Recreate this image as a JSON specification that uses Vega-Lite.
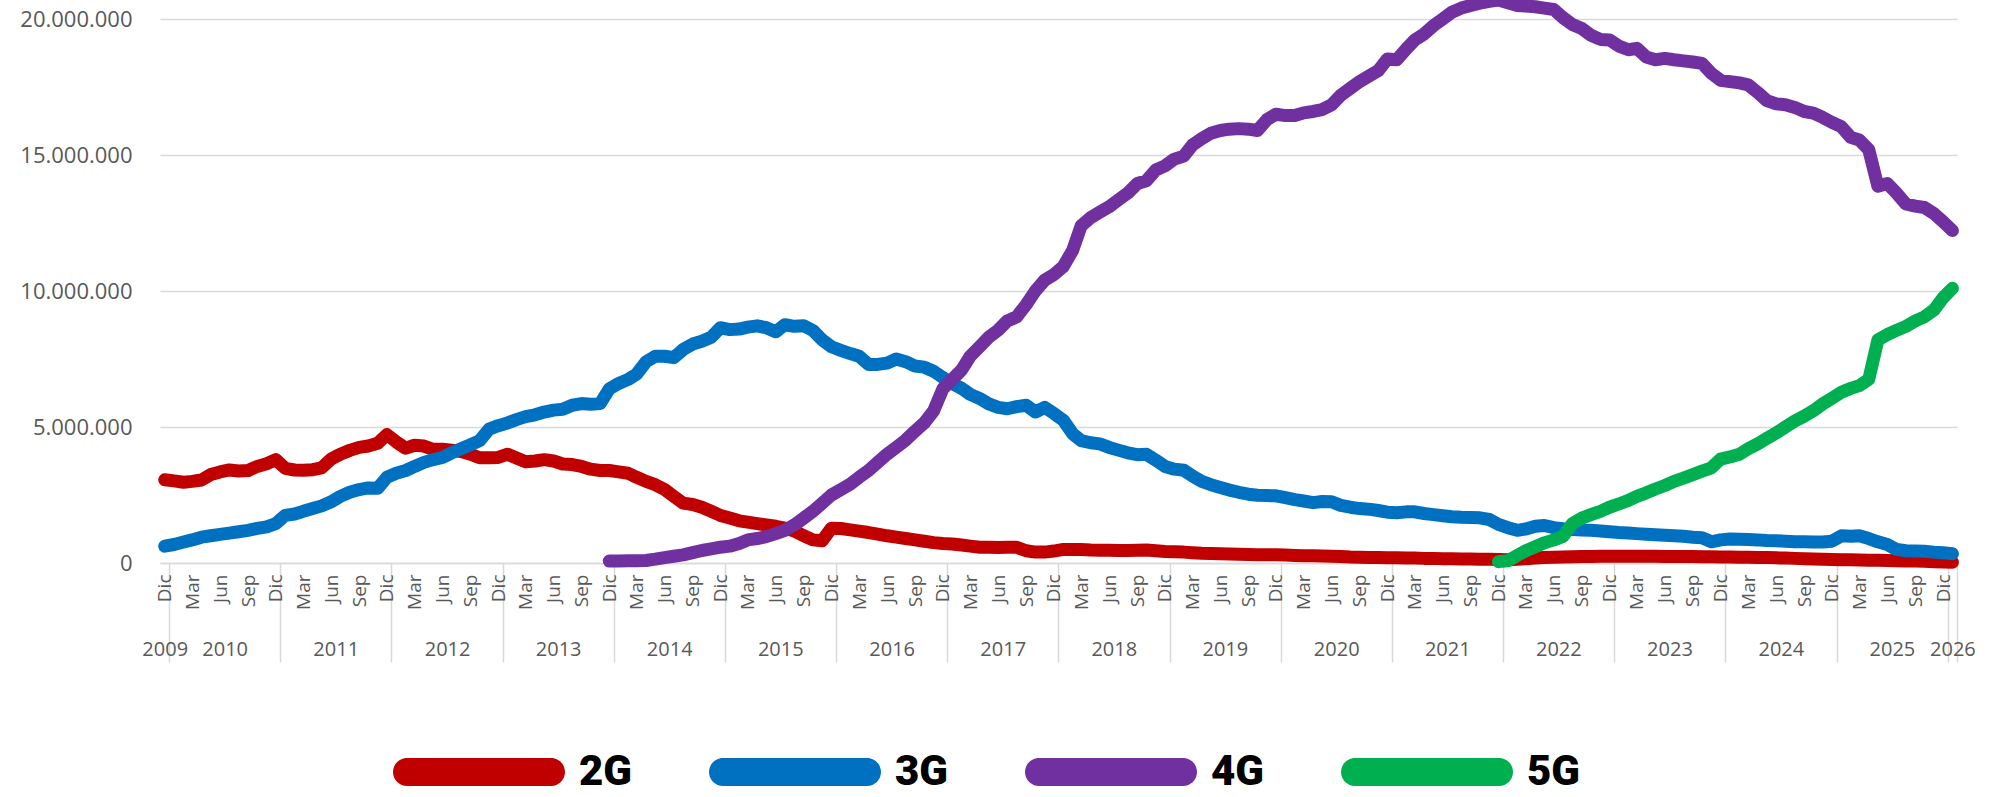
{
"$schema": "https://vega.github.io/schema/vega-lite/v6.json",
"width": 1797,
"height": 544,
"autosize": {"type": "none"},
"padding": {"left": 160, "top": 19, "right": 33, "bottom": 234},
"background": "white",
"config": {"view": {"stroke": null}, "axis": {"labelFont": "Open Sans", "labelColor": "#595959"}},
"data": {"values": [
{"d":"2009-12","s":"2G","v":3060000},
{"d":"2010-01","s":"2G","v":3020000},{"d":"2010-02","s":"2G","v":2970000},{"d":"2010-03","s":"2G","v":3000000},{"d":"2010-04","s":"2G","v":3050000},{"d":"2010-05","s":"2G","v":3250000},{"d":"2010-06","s":"2G","v":3350000},{"d":"2010-07","s":"2G","v":3420000},{"d":"2010-08","s":"2G","v":3380000},{"d":"2010-09","s":"2G","v":3400000},{"d":"2010-10","s":"2G","v":3550000},{"d":"2010-11","s":"2G","v":3650000},{"d":"2010-12","s":"2G","v":3800000},
{"d":"2011-01","s":"2G","v":3480000},{"d":"2011-02","s":"2G","v":3420000},{"d":"2011-03","s":"2G","v":3410000},{"d":"2011-04","s":"2G","v":3430000},{"d":"2011-05","s":"2G","v":3500000},{"d":"2011-06","s":"2G","v":3820000},{"d":"2011-07","s":"2G","v":4000000},{"d":"2011-08","s":"2G","v":4140000},{"d":"2011-09","s":"2G","v":4250000},{"d":"2011-10","s":"2G","v":4300000},{"d":"2011-11","s":"2G","v":4400000},{"d":"2011-12","s":"2G","v":4720000},
{"d":"2012-01","s":"2G","v":4450000},{"d":"2012-02","s":"2G","v":4220000},{"d":"2012-03","s":"2G","v":4330000},{"d":"2012-04","s":"2G","v":4300000},{"d":"2012-05","s":"2G","v":4180000},{"d":"2012-06","s":"2G","v":4180000},{"d":"2012-07","s":"2G","v":4150000},{"d":"2012-08","s":"2G","v":4100000},{"d":"2012-09","s":"2G","v":4000000},{"d":"2012-10","s":"2G","v":3870000},{"d":"2012-11","s":"2G","v":3870000},{"d":"2012-12","s":"2G","v":3880000},
{"d":"2013-01","s":"2G","v":4000000},{"d":"2013-02","s":"2G","v":3850000},{"d":"2013-03","s":"2G","v":3720000},{"d":"2013-04","s":"2G","v":3750000},{"d":"2013-05","s":"2G","v":3800000},{"d":"2013-06","s":"2G","v":3750000},{"d":"2013-07","s":"2G","v":3640000},{"d":"2013-08","s":"2G","v":3620000},{"d":"2013-09","s":"2G","v":3550000},{"d":"2013-10","s":"2G","v":3450000},{"d":"2013-11","s":"2G","v":3400000},{"d":"2013-12","s":"2G","v":3400000},
{"d":"2014-01","s":"2G","v":3350000},{"d":"2014-02","s":"2G","v":3300000},{"d":"2014-03","s":"2G","v":3150000},{"d":"2014-04","s":"2G","v":3000000},{"d":"2014-05","s":"2G","v":2880000},{"d":"2014-06","s":"2G","v":2700000},{"d":"2014-07","s":"2G","v":2450000},{"d":"2014-08","s":"2G","v":2200000},{"d":"2014-09","s":"2G","v":2150000},{"d":"2014-10","s":"2G","v":2050000},{"d":"2014-11","s":"2G","v":1900000},{"d":"2014-12","s":"2G","v":1750000},
{"d":"2015-01","s":"2G","v":1650000},{"d":"2015-02","s":"2G","v":1550000},{"d":"2015-03","s":"2G","v":1500000},{"d":"2015-04","s":"2G","v":1450000},{"d":"2015-05","s":"2G","v":1400000},{"d":"2015-06","s":"2G","v":1350000},{"d":"2015-07","s":"2G","v":1280000},{"d":"2015-08","s":"2G","v":1180000},{"d":"2015-09","s":"2G","v":1000000},{"d":"2015-10","s":"2G","v":850000},{"d":"2015-11","s":"2G","v":820000},{"d":"2015-12","s":"2G","v":1280000},
{"d":"2016-01","s":"2G","v":1270000},{"d":"2016-02","s":"2G","v":1220000},{"d":"2016-03","s":"2G","v":1170000},{"d":"2016-04","s":"2G","v":1120000},{"d":"2016-05","s":"2G","v":1060000},{"d":"2016-06","s":"2G","v":1000000},{"d":"2016-07","s":"2G","v":950000},{"d":"2016-08","s":"2G","v":900000},{"d":"2016-09","s":"2G","v":850000},{"d":"2016-10","s":"2G","v":800000},{"d":"2016-11","s":"2G","v":750000},{"d":"2016-12","s":"2G","v":720000},
{"d":"2017-01","s":"2G","v":700000},{"d":"2017-02","s":"2G","v":660000},{"d":"2017-03","s":"2G","v":620000},{"d":"2017-04","s":"2G","v":580000},{"d":"2017-05","s":"2G","v":580000},{"d":"2017-06","s":"2G","v":570000},{"d":"2017-07","s":"2G","v":580000},{"d":"2017-08","s":"2G","v":580000},{"d":"2017-09","s":"2G","v":450000},{"d":"2017-10","s":"2G","v":400000},{"d":"2017-11","s":"2G","v":400000},{"d":"2017-12","s":"2G","v":440000},
{"d":"2018-01","s":"2G","v":500000},{"d":"2018-02","s":"2G","v":500000},{"d":"2018-03","s":"2G","v":500000},{"d":"2018-04","s":"2G","v":480000},{"d":"2018-05","s":"2G","v":470000},{"d":"2018-06","s":"2G","v":470000},{"d":"2018-07","s":"2G","v":460000},{"d":"2018-08","s":"2G","v":460000},{"d":"2018-09","s":"2G","v":470000},{"d":"2018-10","s":"2G","v":480000},{"d":"2018-11","s":"2G","v":450000},{"d":"2018-12","s":"2G","v":420000},
{"d":"2019-01","s":"2G","v":410000},{"d":"2019-02","s":"2G","v":400000},{"d":"2019-03","s":"2G","v":380000},{"d":"2019-04","s":"2G","v":360000},{"d":"2019-05","s":"2G","v":350000},{"d":"2019-06","s":"2G","v":340000},{"d":"2019-07","s":"2G","v":330000},{"d":"2019-08","s":"2G","v":320000},{"d":"2019-09","s":"2G","v":310000},{"d":"2019-10","s":"2G","v":300000},{"d":"2019-11","s":"2G","v":300000},{"d":"2019-12","s":"2G","v":300000},
{"d":"2020-01","s":"2G","v":290000},{"d":"2020-02","s":"2G","v":280000},{"d":"2020-03","s":"2G","v":270000},{"d":"2020-04","s":"2G","v":270000},{"d":"2020-05","s":"2G","v":260000},{"d":"2020-06","s":"2G","v":250000},{"d":"2020-07","s":"2G","v":240000},{"d":"2020-08","s":"2G","v":220000},{"d":"2020-09","s":"2G","v":210000},{"d":"2020-10","s":"2G","v":200000},{"d":"2020-11","s":"2G","v":200000},{"d":"2020-12","s":"2G","v":190000},
{"d":"2021-01","s":"2G","v":190000},{"d":"2021-02","s":"2G","v":180000},{"d":"2021-03","s":"2G","v":180000},{"d":"2021-04","s":"2G","v":170000},{"d":"2021-05","s":"2G","v":170000},{"d":"2021-06","s":"2G","v":160000},{"d":"2021-07","s":"2G","v":160000},{"d":"2021-08","s":"2G","v":150000},{"d":"2021-09","s":"2G","v":150000},{"d":"2021-10","s":"2G","v":140000},{"d":"2021-11","s":"2G","v":140000},{"d":"2021-12","s":"2G","v":130000},
{"d":"2022-01","s":"2G","v":120000},{"d":"2022-02","s":"2G","v":140000},{"d":"2022-03","s":"2G","v":160000},{"d":"2022-04","s":"2G","v":180000},{"d":"2022-05","s":"2G","v":200000},{"d":"2022-06","s":"2G","v":210000},{"d":"2022-07","s":"2G","v":220000},{"d":"2022-08","s":"2G","v":230000},{"d":"2022-09","s":"2G","v":240000},{"d":"2022-10","s":"2G","v":240000},{"d":"2022-11","s":"2G","v":250000},{"d":"2022-12","s":"2G","v":250000},
{"d":"2023-01","s":"2G","v":250000},{"d":"2023-02","s":"2G","v":250000},{"d":"2023-03","s":"2G","v":250000},{"d":"2023-04","s":"2G","v":250000},{"d":"2023-05","s":"2G","v":250000},{"d":"2023-06","s":"2G","v":240000},{"d":"2023-07","s":"2G","v":240000},{"d":"2023-08","s":"2G","v":240000},{"d":"2023-09","s":"2G","v":240000},{"d":"2023-10","s":"2G","v":230000},{"d":"2023-11","s":"2G","v":230000},{"d":"2023-12","s":"2G","v":220000},
{"d":"2024-01","s":"2G","v":220000},{"d":"2024-02","s":"2G","v":210000},{"d":"2024-03","s":"2G","v":210000},{"d":"2024-04","s":"2G","v":200000},{"d":"2024-05","s":"2G","v":200000},{"d":"2024-06","s":"2G","v":190000},{"d":"2024-07","s":"2G","v":180000},{"d":"2024-08","s":"2G","v":170000},{"d":"2024-09","s":"2G","v":160000},{"d":"2024-10","s":"2G","v":150000},{"d":"2024-11","s":"2G","v":140000},{"d":"2024-12","s":"2G","v":130000},
{"d":"2025-01","s":"2G","v":120000},{"d":"2025-02","s":"2G","v":120000},{"d":"2025-03","s":"2G","v":110000},{"d":"2025-04","s":"2G","v":100000},{"d":"2025-05","s":"2G","v":100000},{"d":"2025-06","s":"2G","v":90000},{"d":"2025-07","s":"2G","v":80000},{"d":"2025-08","s":"2G","v":70000},{"d":"2025-09","s":"2G","v":70000},{"d":"2025-10","s":"2G","v":60000},{"d":"2025-11","s":"2G","v":50000},{"d":"2025-12","s":"2G","v":40000},
{"d":"2026-01","s":"2G","v":30000},
{"d":"2009-12","s":"3G","v":620000},
{"d":"2010-01","s":"3G","v":680000},{"d":"2010-02","s":"3G","v":770000},{"d":"2010-03","s":"3G","v":850000},{"d":"2010-04","s":"3G","v":950000},{"d":"2010-05","s":"3G","v":1000000},{"d":"2010-06","s":"3G","v":1050000},{"d":"2010-07","s":"3G","v":1100000},{"d":"2010-08","s":"3G","v":1150000},{"d":"2010-09","s":"3G","v":1200000},{"d":"2010-10","s":"3G","v":1270000},{"d":"2010-11","s":"3G","v":1330000},{"d":"2010-12","s":"3G","v":1450000},
{"d":"2011-01","s":"3G","v":1750000},{"d":"2011-02","s":"3G","v":1800000},{"d":"2011-03","s":"3G","v":1900000},{"d":"2011-04","s":"3G","v":2000000},{"d":"2011-05","s":"3G","v":2100000},{"d":"2011-06","s":"3G","v":2250000},{"d":"2011-07","s":"3G","v":2450000},{"d":"2011-08","s":"3G","v":2600000},{"d":"2011-09","s":"3G","v":2700000},{"d":"2011-10","s":"3G","v":2760000},{"d":"2011-11","s":"3G","v":2750000},{"d":"2011-12","s":"3G","v":3150000},
{"d":"2012-01","s":"3G","v":3300000},{"d":"2012-02","s":"3G","v":3400000},{"d":"2012-03","s":"3G","v":3550000},{"d":"2012-04","s":"3G","v":3700000},{"d":"2012-05","s":"3G","v":3800000},{"d":"2012-06","s":"3G","v":3880000},{"d":"2012-07","s":"3G","v":4050000},{"d":"2012-08","s":"3G","v":4200000},{"d":"2012-09","s":"3G","v":4350000},{"d":"2012-10","s":"3G","v":4500000},{"d":"2012-11","s":"3G","v":4920000},{"d":"2012-12","s":"3G","v":5050000},
{"d":"2013-01","s":"3G","v":5150000},{"d":"2013-02","s":"3G","v":5280000},{"d":"2013-03","s":"3G","v":5380000},{"d":"2013-04","s":"3G","v":5450000},{"d":"2013-05","s":"3G","v":5550000},{"d":"2013-06","s":"3G","v":5620000},{"d":"2013-07","s":"3G","v":5650000},{"d":"2013-08","s":"3G","v":5800000},{"d":"2013-09","s":"3G","v":5860000},{"d":"2013-10","s":"3G","v":5840000},{"d":"2013-11","s":"3G","v":5860000},{"d":"2013-12","s":"3G","v":6400000},
{"d":"2014-01","s":"3G","v":6600000},{"d":"2014-02","s":"3G","v":6750000},{"d":"2014-03","s":"3G","v":6950000},{"d":"2014-04","s":"3G","v":7400000},{"d":"2014-05","s":"3G","v":7600000},{"d":"2014-06","s":"3G","v":7600000},{"d":"2014-07","s":"3G","v":7550000},{"d":"2014-08","s":"3G","v":7850000},{"d":"2014-09","s":"3G","v":8050000},{"d":"2014-10","s":"3G","v":8150000},{"d":"2014-11","s":"3G","v":8300000},{"d":"2014-12","s":"3G","v":8650000},
{"d":"2015-01","s":"3G","v":8580000},{"d":"2015-02","s":"3G","v":8600000},{"d":"2015-03","s":"3G","v":8670000},{"d":"2015-04","s":"3G","v":8720000},{"d":"2015-05","s":"3G","v":8650000},{"d":"2015-06","s":"3G","v":8500000},{"d":"2015-07","s":"3G","v":8760000},{"d":"2015-08","s":"3G","v":8700000},{"d":"2015-09","s":"3G","v":8720000},{"d":"2015-10","s":"3G","v":8550000},{"d":"2015-11","s":"3G","v":8200000},{"d":"2015-12","s":"3G","v":7950000},
{"d":"2016-01","s":"3G","v":7820000},{"d":"2016-02","s":"3G","v":7700000},{"d":"2016-03","s":"3G","v":7600000},{"d":"2016-04","s":"3G","v":7300000},{"d":"2016-05","s":"3G","v":7300000},{"d":"2016-06","s":"3G","v":7350000},{"d":"2016-07","s":"3G","v":7500000},{"d":"2016-08","s":"3G","v":7400000},{"d":"2016-09","s":"3G","v":7240000},{"d":"2016-10","s":"3G","v":7200000},{"d":"2016-11","s":"3G","v":7050000},{"d":"2016-12","s":"3G","v":6820000},
{"d":"2017-01","s":"3G","v":6600000},{"d":"2017-02","s":"3G","v":6420000},{"d":"2017-03","s":"3G","v":6200000},{"d":"2017-04","s":"3G","v":6050000},{"d":"2017-05","s":"3G","v":5850000},{"d":"2017-06","s":"3G","v":5720000},{"d":"2017-07","s":"3G","v":5670000},{"d":"2017-08","s":"3G","v":5750000},{"d":"2017-09","s":"3G","v":5800000},{"d":"2017-10","s":"3G","v":5550000},{"d":"2017-11","s":"3G","v":5720000},{"d":"2017-12","s":"3G","v":5500000},
{"d":"2018-01","s":"3G","v":5250000},{"d":"2018-02","s":"3G","v":4750000},{"d":"2018-03","s":"3G","v":4500000},{"d":"2018-04","s":"3G","v":4420000},{"d":"2018-05","s":"3G","v":4380000},{"d":"2018-06","s":"3G","v":4250000},{"d":"2018-07","s":"3G","v":4150000},{"d":"2018-08","s":"3G","v":4050000},{"d":"2018-09","s":"3G","v":3980000},{"d":"2018-10","s":"3G","v":4000000},{"d":"2018-11","s":"3G","v":3780000},{"d":"2018-12","s":"3G","v":3550000},
{"d":"2019-01","s":"3G","v":3450000},{"d":"2019-02","s":"3G","v":3410000},{"d":"2019-03","s":"3G","v":3200000},{"d":"2019-04","s":"3G","v":3000000},{"d":"2019-05","s":"3G","v":2880000},{"d":"2019-06","s":"3G","v":2780000},{"d":"2019-07","s":"3G","v":2680000},{"d":"2019-08","s":"3G","v":2600000},{"d":"2019-09","s":"3G","v":2530000},{"d":"2019-10","s":"3G","v":2490000},{"d":"2019-11","s":"3G","v":2480000},{"d":"2019-12","s":"3G","v":2470000},
{"d":"2020-01","s":"3G","v":2400000},{"d":"2020-02","s":"3G","v":2330000},{"d":"2020-03","s":"3G","v":2280000},{"d":"2020-04","s":"3G","v":2220000},{"d":"2020-05","s":"3G","v":2260000},{"d":"2020-06","s":"3G","v":2250000},{"d":"2020-07","s":"3G","v":2120000},{"d":"2020-08","s":"3G","v":2050000},{"d":"2020-09","s":"3G","v":2000000},{"d":"2020-10","s":"3G","v":1980000},{"d":"2020-11","s":"3G","v":1930000},{"d":"2020-12","s":"3G","v":1870000},
{"d":"2021-01","s":"3G","v":1850000},{"d":"2021-02","s":"3G","v":1880000},{"d":"2021-03","s":"3G","v":1880000},{"d":"2021-04","s":"3G","v":1820000},{"d":"2021-05","s":"3G","v":1780000},{"d":"2021-06","s":"3G","v":1740000},{"d":"2021-07","s":"3G","v":1700000},{"d":"2021-08","s":"3G","v":1680000},{"d":"2021-09","s":"3G","v":1670000},{"d":"2021-10","s":"3G","v":1660000},{"d":"2021-11","s":"3G","v":1600000},{"d":"2021-12","s":"3G","v":1420000},
{"d":"2022-01","s":"3G","v":1300000},{"d":"2022-02","s":"3G","v":1200000},{"d":"2022-03","s":"3G","v":1250000},{"d":"2022-04","s":"3G","v":1350000},{"d":"2022-05","s":"3G","v":1380000},{"d":"2022-06","s":"3G","v":1300000},{"d":"2022-07","s":"3G","v":1260000},{"d":"2022-08","s":"3G","v":1230000},{"d":"2022-09","s":"3G","v":1210000},{"d":"2022-10","s":"3G","v":1200000},{"d":"2022-11","s":"3G","v":1180000},{"d":"2022-12","s":"3G","v":1150000},
{"d":"2023-01","s":"3G","v":1120000},{"d":"2023-02","s":"3G","v":1100000},{"d":"2023-03","s":"3G","v":1080000},{"d":"2023-04","s":"3G","v":1060000},{"d":"2023-05","s":"3G","v":1040000},{"d":"2023-06","s":"3G","v":1020000},{"d":"2023-07","s":"3G","v":1000000},{"d":"2023-08","s":"3G","v":980000},{"d":"2023-09","s":"3G","v":950000},{"d":"2023-10","s":"3G","v":930000},{"d":"2023-11","s":"3G","v":780000},{"d":"2023-12","s":"3G","v":850000},
{"d":"2024-01","s":"3G","v":880000},{"d":"2024-02","s":"3G","v":870000},{"d":"2024-03","s":"3G","v":860000},{"d":"2024-04","s":"3G","v":850000},{"d":"2024-05","s":"3G","v":830000},{"d":"2024-06","s":"3G","v":820000},{"d":"2024-07","s":"3G","v":800000},{"d":"2024-08","s":"3G","v":780000},{"d":"2024-09","s":"3G","v":780000},{"d":"2024-10","s":"3G","v":770000},{"d":"2024-11","s":"3G","v":770000},{"d":"2024-12","s":"3G","v":800000},
{"d":"2025-01","s":"3G","v":1000000},{"d":"2025-02","s":"3G","v":980000},{"d":"2025-03","s":"3G","v":1000000},{"d":"2025-04","s":"3G","v":900000},{"d":"2025-05","s":"3G","v":780000},{"d":"2025-06","s":"3G","v":680000},{"d":"2025-07","s":"3G","v":500000},{"d":"2025-08","s":"3G","v":450000},{"d":"2025-09","s":"3G","v":440000},{"d":"2025-10","s":"3G","v":430000},{"d":"2025-11","s":"3G","v":400000},{"d":"2025-12","s":"3G","v":380000},
{"d":"2026-01","s":"3G","v":340000},
{"d":"2013-12","s":"4G","v":70000},
{"d":"2014-01","s":"4G","v":70000},{"d":"2014-02","s":"4G","v":80000},{"d":"2014-03","s":"4G","v":80000},{"d":"2014-04","s":"4G","v":90000},{"d":"2014-05","s":"4G","v":140000},{"d":"2014-06","s":"4G","v":200000},{"d":"2014-07","s":"4G","v":250000},{"d":"2014-08","s":"4G","v":300000},{"d":"2014-09","s":"4G","v":380000},{"d":"2014-10","s":"4G","v":460000},{"d":"2014-11","s":"4G","v":520000},{"d":"2014-12","s":"4G","v":580000},
{"d":"2015-01","s":"4G","v":620000},{"d":"2015-02","s":"4G","v":720000},{"d":"2015-03","s":"4G","v":850000},{"d":"2015-04","s":"4G","v":900000},{"d":"2015-05","s":"4G","v":970000},{"d":"2015-06","s":"4G","v":1080000},{"d":"2015-07","s":"4G","v":1200000},{"d":"2015-08","s":"4G","v":1400000},{"d":"2015-09","s":"4G","v":1650000},{"d":"2015-10","s":"4G","v":1900000},{"d":"2015-11","s":"4G","v":2200000},{"d":"2015-12","s":"4G","v":2500000},
{"d":"2016-01","s":"4G","v":2700000},{"d":"2016-02","s":"4G","v":2900000},{"d":"2016-03","s":"4G","v":3150000},{"d":"2016-04","s":"4G","v":3400000},{"d":"2016-05","s":"4G","v":3700000},{"d":"2016-06","s":"4G","v":4000000},{"d":"2016-07","s":"4G","v":4250000},{"d":"2016-08","s":"4G","v":4520000},{"d":"2016-09","s":"4G","v":4850000},{"d":"2016-10","s":"4G","v":5150000},{"d":"2016-11","s":"4G","v":5600000},{"d":"2016-12","s":"4G","v":6400000},
{"d":"2017-01","s":"4G","v":6750000},{"d":"2017-02","s":"4G","v":7100000},{"d":"2017-03","s":"4G","v":7600000},{"d":"2017-04","s":"4G","v":7950000},{"d":"2017-05","s":"4G","v":8300000},{"d":"2017-06","s":"4G","v":8560000},{"d":"2017-07","s":"4G","v":8900000},{"d":"2017-08","s":"4G","v":9050000},{"d":"2017-09","s":"4G","v":9500000},{"d":"2017-10","s":"4G","v":10000000},{"d":"2017-11","s":"4G","v":10400000},{"d":"2017-12","s":"4G","v":10600000},
{"d":"2018-01","s":"4G","v":10900000},{"d":"2018-02","s":"4G","v":11500000},{"d":"2018-03","s":"4G","v":12400000},{"d":"2018-04","s":"4G","v":12700000},{"d":"2018-05","s":"4G","v":12900000},{"d":"2018-06","s":"4G","v":13100000},{"d":"2018-07","s":"4G","v":13350000},{"d":"2018-08","s":"4G","v":13600000},{"d":"2018-09","s":"4G","v":13950000},{"d":"2018-10","s":"4G","v":14050000},{"d":"2018-11","s":"4G","v":14450000},{"d":"2018-12","s":"4G","v":14600000},
{"d":"2019-01","s":"4G","v":14850000},{"d":"2019-02","s":"4G","v":14960000},{"d":"2019-03","s":"4G","v":15360000},{"d":"2019-04","s":"4G","v":15600000},{"d":"2019-05","s":"4G","v":15800000},{"d":"2019-06","s":"4G","v":15900000},{"d":"2019-07","s":"4G","v":15950000},{"d":"2019-08","s":"4G","v":15970000},{"d":"2019-09","s":"4G","v":15950000},{"d":"2019-10","s":"4G","v":15900000},{"d":"2019-11","s":"4G","v":16300000},{"d":"2019-12","s":"4G","v":16500000},
{"d":"2020-01","s":"4G","v":16450000},{"d":"2020-02","s":"4G","v":16450000},{"d":"2020-03","s":"4G","v":16550000},{"d":"2020-04","s":"4G","v":16600000},{"d":"2020-05","s":"4G","v":16670000},{"d":"2020-06","s":"4G","v":16850000},{"d":"2020-07","s":"4G","v":17200000},{"d":"2020-08","s":"4G","v":17450000},{"d":"2020-09","s":"4G","v":17700000},{"d":"2020-10","s":"4G","v":17900000},{"d":"2020-11","s":"4G","v":18100000},{"d":"2020-12","s":"4G","v":18530000},
{"d":"2021-01","s":"4G","v":18500000},{"d":"2021-02","s":"4G","v":18900000},{"d":"2021-03","s":"4G","v":19230000},{"d":"2021-04","s":"4G","v":19450000},{"d":"2021-05","s":"4G","v":19750000},{"d":"2021-06","s":"4G","v":20000000},{"d":"2021-07","s":"4G","v":20250000},{"d":"2021-08","s":"4G","v":20400000},{"d":"2021-09","s":"4G","v":20500000},{"d":"2021-10","s":"4G","v":20580000},{"d":"2021-11","s":"4G","v":20650000},{"d":"2021-12","s":"4G","v":20700000},
{"d":"2022-01","s":"4G","v":20600000},{"d":"2022-02","s":"4G","v":20500000},{"d":"2022-03","s":"4G","v":20480000},{"d":"2022-04","s":"4G","v":20450000},{"d":"2022-05","s":"4G","v":20400000},{"d":"2022-06","s":"4G","v":20350000},{"d":"2022-07","s":"4G","v":20050000},{"d":"2022-08","s":"4G","v":19800000},{"d":"2022-09","s":"4G","v":19650000},{"d":"2022-10","s":"4G","v":19400000},{"d":"2022-11","s":"4G","v":19250000},{"d":"2022-12","s":"4G","v":19230000},
{"d":"2023-01","s":"4G","v":19000000},{"d":"2023-02","s":"4G","v":18870000},{"d":"2023-03","s":"4G","v":18920000},{"d":"2023-04","s":"4G","v":18600000},{"d":"2023-05","s":"4G","v":18500000},{"d":"2023-06","s":"4G","v":18550000},{"d":"2023-07","s":"4G","v":18500000},{"d":"2023-08","s":"4G","v":18460000},{"d":"2023-09","s":"4G","v":18420000},{"d":"2023-10","s":"4G","v":18370000},{"d":"2023-11","s":"4G","v":18000000},{"d":"2023-12","s":"4G","v":17750000},
{"d":"2024-01","s":"4G","v":17700000},{"d":"2024-02","s":"4G","v":17650000},{"d":"2024-03","s":"4G","v":17580000},{"d":"2024-04","s":"4G","v":17300000},{"d":"2024-05","s":"4G","v":17000000},{"d":"2024-06","s":"4G","v":16880000},{"d":"2024-07","s":"4G","v":16850000},{"d":"2024-08","s":"4G","v":16750000},{"d":"2024-09","s":"4G","v":16600000},{"d":"2024-10","s":"4G","v":16540000},{"d":"2024-11","s":"4G","v":16380000},{"d":"2024-12","s":"4G","v":16200000},
{"d":"2025-01","s":"4G","v":16040000},{"d":"2025-02","s":"4G","v":15650000},{"d":"2025-03","s":"4G","v":15550000},{"d":"2025-04","s":"4G","v":15200000},{"d":"2025-05","s":"4G","v":13850000},{"d":"2025-06","s":"4G","v":13950000},{"d":"2025-07","s":"4G","v":13600000},{"d":"2025-08","s":"4G","v":13200000},{"d":"2025-09","s":"4G","v":13120000},{"d":"2025-10","s":"4G","v":13070000},{"d":"2025-11","s":"4G","v":12850000},{"d":"2025-12","s":"4G","v":12550000},
{"d":"2026-01","s":"4G","v":12220000},
{"d":"2021-12","s":"5G","v":50000},
{"d":"2022-01","s":"5G","v":80000},{"d":"2022-02","s":"5G","v":280000},{"d":"2022-03","s":"5G","v":450000},{"d":"2022-04","s":"5G","v":600000},{"d":"2022-05","s":"5G","v":740000},{"d":"2022-06","s":"5G","v":850000},{"d":"2022-07","s":"5G","v":980000},{"d":"2022-08","s":"5G","v":1450000},{"d":"2022-09","s":"5G","v":1650000},{"d":"2022-10","s":"5G","v":1780000},{"d":"2022-11","s":"5G","v":1900000},{"d":"2022-12","s":"5G","v":2050000},
{"d":"2023-01","s":"5G","v":2170000},{"d":"2023-02","s":"5G","v":2300000},{"d":"2023-03","s":"5G","v":2450000},{"d":"2023-04","s":"5G","v":2580000},{"d":"2023-05","s":"5G","v":2720000},{"d":"2023-06","s":"5G","v":2850000},{"d":"2023-07","s":"5G","v":3000000},{"d":"2023-08","s":"5G","v":3120000},{"d":"2023-09","s":"5G","v":3250000},{"d":"2023-10","s":"5G","v":3380000},{"d":"2023-11","s":"5G","v":3500000},{"d":"2023-12","s":"5G","v":3820000},
{"d":"2024-01","s":"5G","v":3900000},{"d":"2024-02","s":"5G","v":4000000},{"d":"2024-03","s":"5G","v":4200000},{"d":"2024-04","s":"5G","v":4380000},{"d":"2024-05","s":"5G","v":4580000},{"d":"2024-06","s":"5G","v":4780000},{"d":"2024-07","s":"5G","v":5000000},{"d":"2024-08","s":"5G","v":5220000},{"d":"2024-09","s":"5G","v":5400000},{"d":"2024-10","s":"5G","v":5600000},{"d":"2024-11","s":"5G","v":5850000},{"d":"2024-12","s":"5G","v":6060000},
{"d":"2025-01","s":"5G","v":6280000},{"d":"2025-02","s":"5G","v":6420000},{"d":"2025-03","s":"5G","v":6520000},{"d":"2025-04","s":"5G","v":6750000},{"d":"2025-05","s":"5G","v":8200000},{"d":"2025-06","s":"5G","v":8400000},{"d":"2025-07","s":"5G","v":8550000},{"d":"2025-08","s":"5G","v":8700000},{"d":"2025-09","s":"5G","v":8900000},{"d":"2025-10","s":"5G","v":9050000},{"d":"2025-11","s":"5G","v":9300000},{"d":"2025-12","s":"5G","v":9750000},
{"d":"2026-01","s":"5G","v":10100000}
]},
"layer": [
{
"mark": {"type": "line", "strokeWidth": 13, "strokeCap": "round", "strokeJoin": "round"},
"encoding": {
"x": {"field": "d", "type": "temporal",
"scale": {"type": "utc", "domain": [{"year": 2009, "month": 11, "date": 15, "hours": 12, "utc": true}, {"year": 2026, "month": 1, "date": 16, "utc": true}]},
"axis": {"orient": "bottom", "title": null, "grid": false,
"values": [{"year":2009,"month":11,"date":1,"utc":true},{"year":2009,"month":12,"date":1,"utc":true},
{"year":2010,"month":3,"date":1,"utc":true},{"year":2010,"month":6,"date":1,"utc":true},{"year":2010,"month":9,"date":1,"utc":true},{"year":2010,"month":12,"date":1,"utc":true},
{"year":2011,"month":3,"date":1,"utc":true},{"year":2011,"month":6,"date":1,"utc":true},{"year":2011,"month":9,"date":1,"utc":true},{"year":2011,"month":12,"date":1,"utc":true},
{"year":2012,"month":3,"date":1,"utc":true},{"year":2012,"month":6,"date":1,"utc":true},{"year":2012,"month":9,"date":1,"utc":true},{"year":2012,"month":12,"date":1,"utc":true},
{"year":2013,"month":3,"date":1,"utc":true},{"year":2013,"month":6,"date":1,"utc":true},{"year":2013,"month":9,"date":1,"utc":true},{"year":2013,"month":12,"date":1,"utc":true},
{"year":2014,"month":3,"date":1,"utc":true},{"year":2014,"month":6,"date":1,"utc":true},{"year":2014,"month":9,"date":1,"utc":true},{"year":2014,"month":12,"date":1,"utc":true},
{"year":2015,"month":3,"date":1,"utc":true},{"year":2015,"month":6,"date":1,"utc":true},{"year":2015,"month":9,"date":1,"utc":true},{"year":2015,"month":12,"date":1,"utc":true},
{"year":2016,"month":3,"date":1,"utc":true},{"year":2016,"month":6,"date":1,"utc":true},{"year":2016,"month":9,"date":1,"utc":true},{"year":2016,"month":12,"date":1,"utc":true},
{"year":2017,"month":3,"date":1,"utc":true},{"year":2017,"month":6,"date":1,"utc":true},{"year":2017,"month":9,"date":1,"utc":true},{"year":2017,"month":12,"date":1,"utc":true},
{"year":2018,"month":3,"date":1,"utc":true},{"year":2018,"month":6,"date":1,"utc":true},{"year":2018,"month":9,"date":1,"utc":true},{"year":2018,"month":12,"date":1,"utc":true},
{"year":2019,"month":3,"date":1,"utc":true},{"year":2019,"month":6,"date":1,"utc":true},{"year":2019,"month":9,"date":1,"utc":true},{"year":2019,"month":12,"date":1,"utc":true},
{"year":2020,"month":3,"date":1,"utc":true},{"year":2020,"month":6,"date":1,"utc":true},{"year":2020,"month":9,"date":1,"utc":true},{"year":2020,"month":12,"date":1,"utc":true},
{"year":2021,"month":3,"date":1,"utc":true},{"year":2021,"month":6,"date":1,"utc":true},{"year":2021,"month":9,"date":1,"utc":true},{"year":2021,"month":12,"date":1,"utc":true},
{"year":2022,"month":3,"date":1,"utc":true},{"year":2022,"month":6,"date":1,"utc":true},{"year":2022,"month":9,"date":1,"utc":true},{"year":2022,"month":12,"date":1,"utc":true},
{"year":2023,"month":3,"date":1,"utc":true},{"year":2023,"month":6,"date":1,"utc":true},{"year":2023,"month":9,"date":1,"utc":true},{"year":2023,"month":12,"date":1,"utc":true},
{"year":2024,"month":3,"date":1,"utc":true},{"year":2024,"month":6,"date":1,"utc":true},{"year":2024,"month":9,"date":1,"utc":true},{"year":2024,"month":12,"date":1,"utc":true},
{"year":2025,"month":3,"date":1,"utc":true},{"year":2025,"month":6,"date":1,"utc":true},{"year":2025,"month":9,"date":1,"utc":true},{"year":2025,"month":12,"date":1,"utc":true},
{"year":2026,"month":1,"date":1,"utc":true}],
"labelExpr": "utcmonth(datum.value) % 3 == 2 ? ['Mar','Jun','Sep','Dic'][floor(utcmonth(datum.value) / 3)] : ''",
"labelAngle": -90, "labelAlign": "right", "labelBaseline": "middle",
"labelFont": "Open Sans", "labelFontSize": 19, "labelColor": "#595959",
"labelPadding": -88, "labelOffset": -4.6, "tickOffset": 4.6,
"ticks": true, "tickSize": 99, "tickColor": "#d9d9d9", "tickWidth": 1.5,
"tickOpacity": {"condition": {"test": "utcmonth(datum.value) % 3 != 2 || utcmonth(datum.value) == 11", "value": 1}, "value": 0},
"domain": true, "domainColor": "#d9d9d9", "domainWidth": 1.5,
"labelOverlap": false, "labelFlush": false, "labelBound": false}
},
"y": {"field": "v", "type": "quantitative",
"scale": {"domain": [0, 20000000], "nice": false, "zero": true},
"axis": {"title": null, "values": [0, 5000000, 10000000, 15000000, 20000000],
"labelExpr": "replace(replace(replace(format(datum.value, ','), ',', '.'), ',', '.'), ',', '.')",
"labelFont": "Open Sans", "labelFontSize": 22, "labelColor": "#595959", "labelPadding": 28,
"ticks": false, "domain": false, "grid": true, "gridColor": "#d9d9d9", "gridWidth": 1.5}
},
"color": {"field": "s", "type": "nominal",
"scale": {"domain": ["2G", "3G", "4G", "5G"], "range": ["#C00000", "#0070C0", "#7030A0", "#00B050"]},
"legend": {"orient": "none", "legendX": 233, "legendY": 667, "direction": "horizontal", "title": null,
"symbolType": "M-0.837,-0.163L0.837,-0.163A0.163,0.163 0 0 1 0.837,0.163L-0.837,0.163A0.163,0.163 0 0 1 -0.837,-0.163Z",
"symbolSize": 29584, "symbolStrokeWidth": 0,
"labelFont": "Roboto", "labelFontSize": 42, "labelFontWeight": 900, "labelColor": "#000000",
"labelOffset": 14, "columnPadding": 77, "labelLimit": 300,
"encode": {"symbols": {"update": {"fill": {"scale": "color", "field": "value"}, "opacity": {"value": 1}}}}}
}
}
},
{
"data": {"values": [{"d": "2009-12"}, {"d": "2026-01"}]},
"mark": {"type": "rule", "opacity": 0},
"encoding": {
"x": {"field": "d", "type": "temporal",
"scale": {"type": "utc", "domain": [{"year": 2009, "month": 11, "date": 15, "hours": 12, "utc": true}, {"year": 2026, "month": 1, "date": 16, "utc": true}]},
"axis": {"orient": "bottom", "title": null, "grid": false, "ticks": false, "domain": false,
"values": [{"year":2009,"month":12,"date":1,"utc":true},
{"year":2010,"month":6,"date":16,"utc":true},{"year":2011,"month":6,"date":16,"utc":true},{"year":2012,"month":6,"date":16,"utc":true},{"year":2013,"month":6,"date":16,"utc":true},
{"year":2014,"month":6,"date":16,"utc":true},{"year":2015,"month":6,"date":16,"utc":true},{"year":2016,"month":6,"date":16,"utc":true},{"year":2017,"month":6,"date":16,"utc":true},
{"year":2018,"month":6,"date":16,"utc":true},{"year":2019,"month":6,"date":16,"utc":true},{"year":2020,"month":6,"date":16,"utc":true},{"year":2021,"month":6,"date":16,"utc":true},
{"year":2022,"month":6,"date":16,"utc":true},{"year":2023,"month":6,"date":16,"utc":true},{"year":2024,"month":6,"date":16,"utc":true},{"year":2025,"month":6,"date":16,"utc":true},
{"year":2026,"month":1,"date":1,"utc":true}],
"labelExpr": "utcFormat(datum.value, '%Y')",
"labelAngle": 0, "labelAlign": "center", "labelBaseline": "top",
"labelFont": "Open Sans", "labelFontSize": 20, "labelColor": "#595959", "labelPadding": 76,
"labelOverlap": false, "labelFlush": false, "labelBound": false}
}
}
}
],
"resolve": {"axis": {"x": "independent"}}
}
